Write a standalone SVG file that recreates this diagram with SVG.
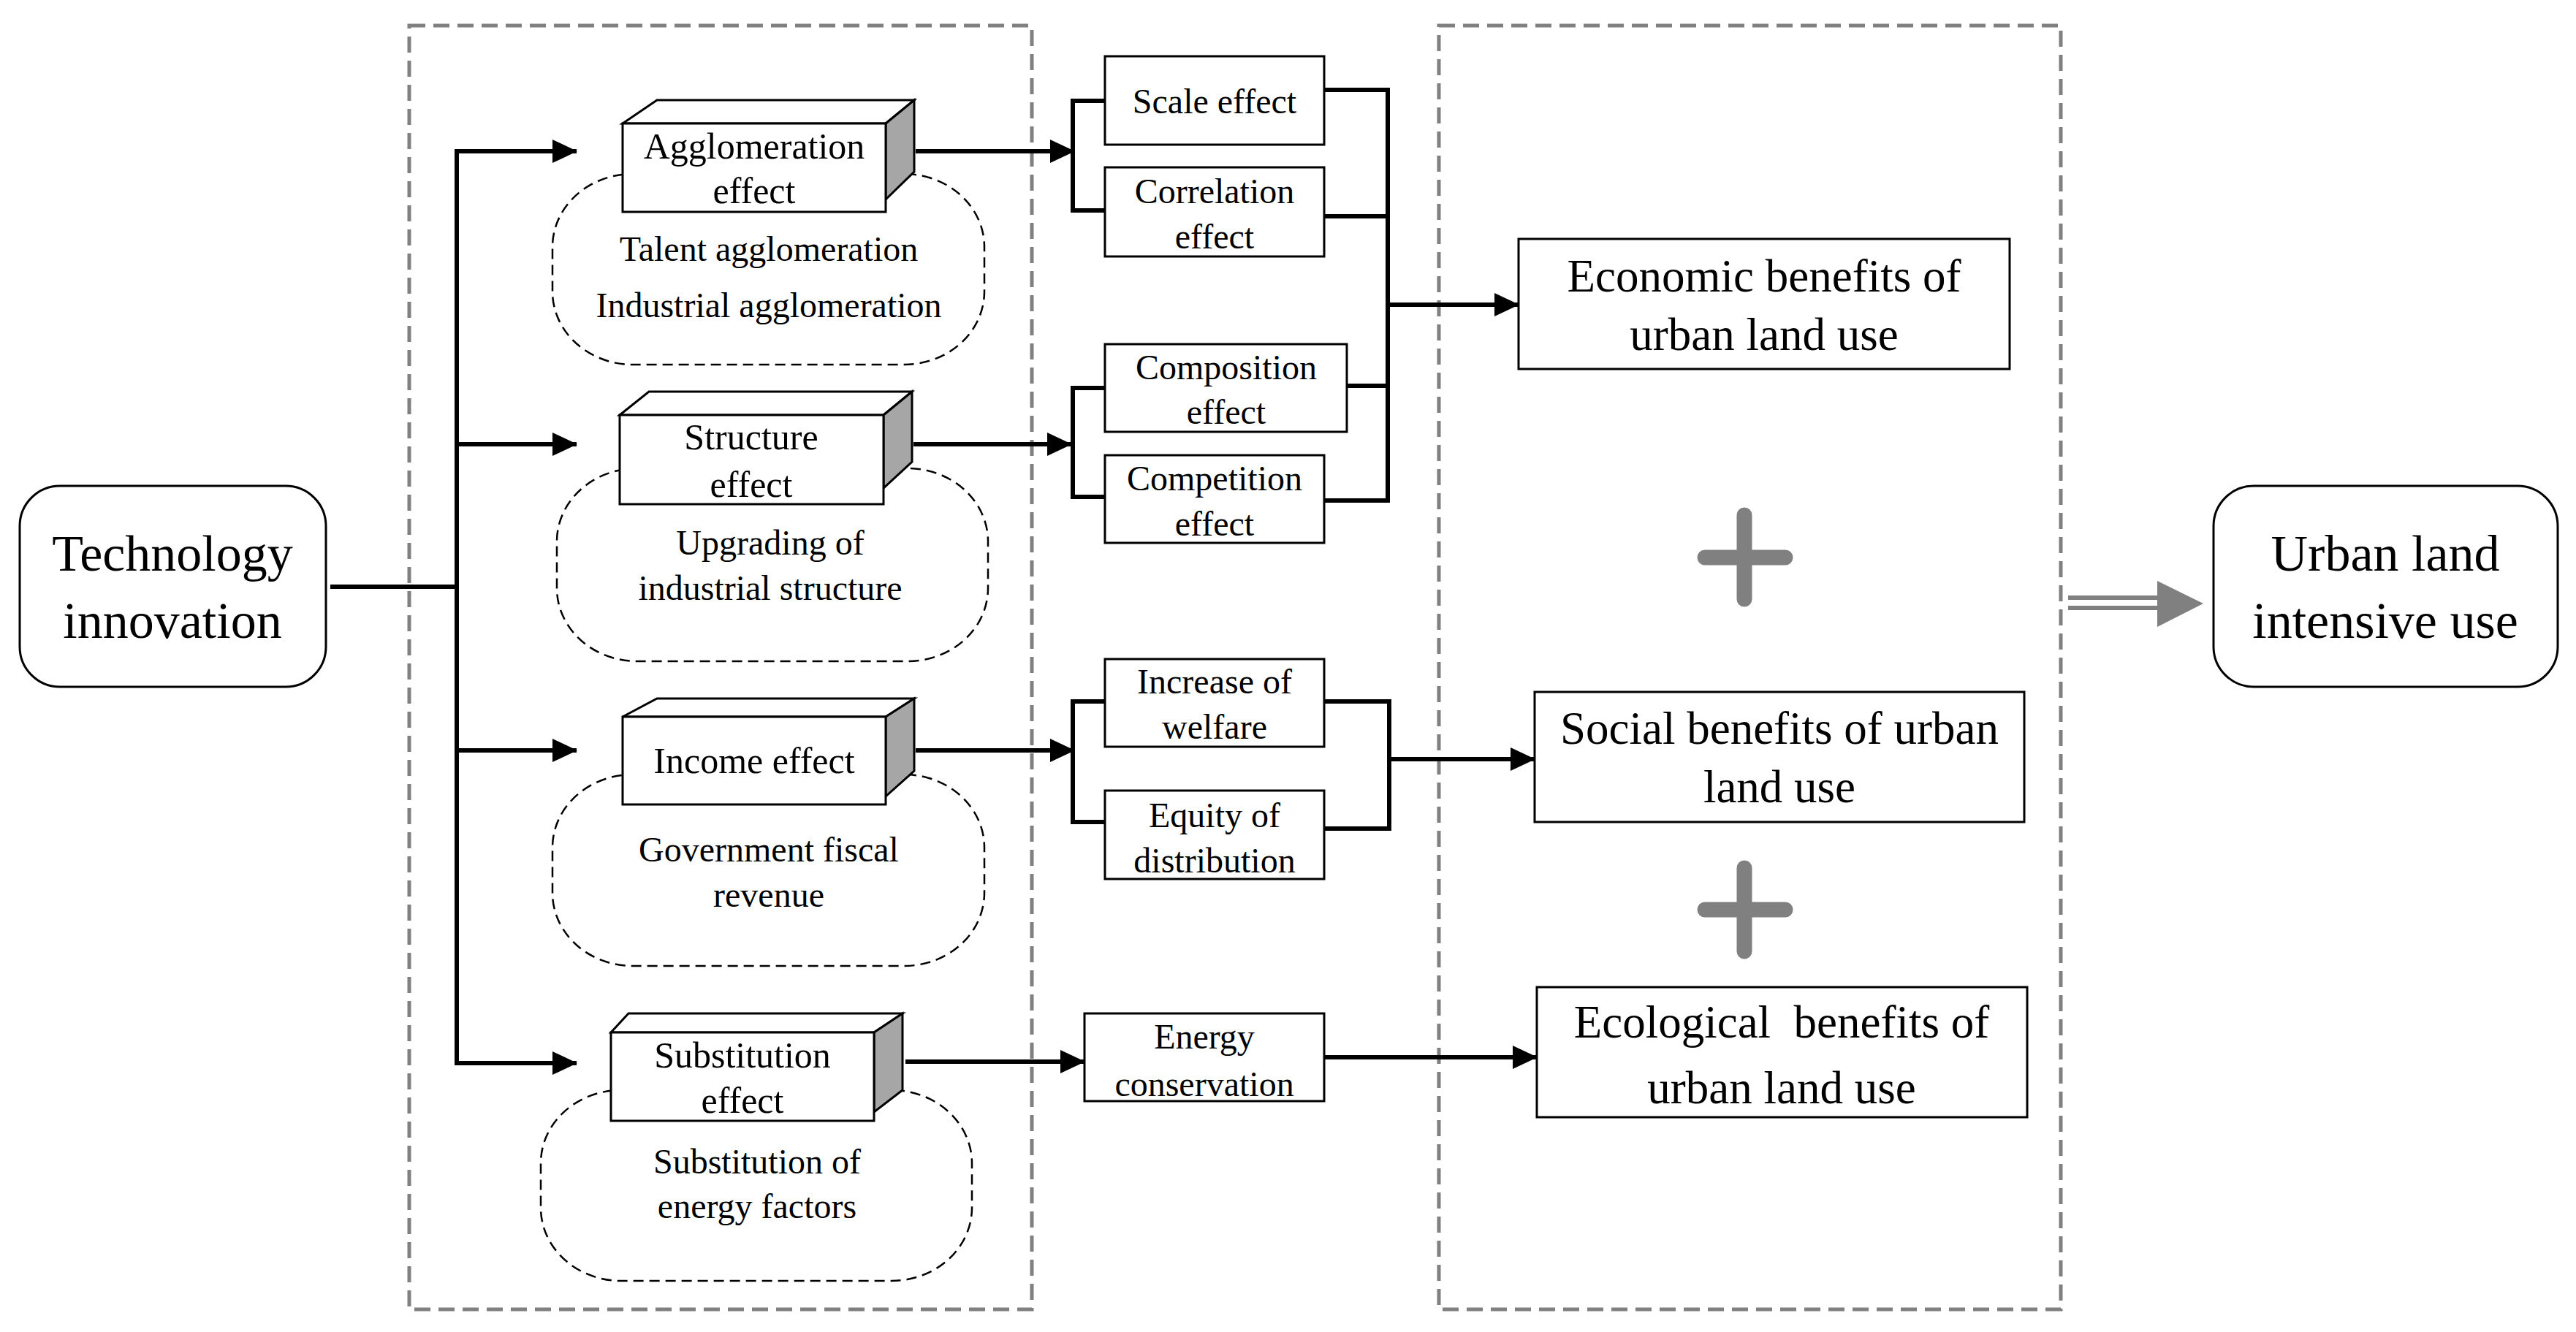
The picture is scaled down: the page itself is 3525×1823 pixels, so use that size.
<svg xmlns="http://www.w3.org/2000/svg" width="3525" height="1823" viewBox="0 0 3525 1823">
<defs>
<marker id="ah" markerUnits="userSpaceOnUse" markerWidth="34" markerHeight="32" refX="33" refY="16" orient="auto"><path d="M0,0 L34,16 L0,32 z" fill="#000"/></marker>
<style>
text{font-family:"Liberation Serif","Times New Roman",serif;fill:#000;text-anchor:middle;dominant-baseline:central}
.box{fill:#fff;stroke:#000;stroke-width:3}
.cloud{fill:#fff;stroke:#000;stroke-width:2.5;stroke-dasharray:14,8}
.side{fill:#a6a6a6;stroke:#000;stroke-width:3}
.top{fill:#fff;stroke:#000;stroke-width:3}
.grp{fill:none;stroke:#808080;stroke-width:5;stroke-dasharray:22,11}
.c{fill:none;stroke:#000;stroke-width:6}
.s{font-size:48px}
.m{font-size:50px}
.l{font-size:63px}
.x{font-size:70px}
.plus{stroke:#808080;stroke-width:21;stroke-linecap:round}
</style>
</defs>
<rect width="3525" height="1823" fill="#fff"/>
<rect class="grp" x="560" y="35" width="852" height="1757"/>
<rect class="grp" x="1969" y="35" width="851" height="1757"/>

<g id="tech"><rect class="box" x="27" y="665" width="419" height="275" rx="55"/><text class="x" x="236" y="757">Technology</text><text class="x" x="236" y="849">innovation</text></g>

<g id="agg">
<rect class="cloud" x="756" y="238" width="591" height="261" rx="110" ry="100"/>
<polygon class="top" points="852,169 899,137 1251,137 1212,169"/>
<polygon class="side" points="1212,169 1251,137 1251,235 1212,273"/>
<rect class="box" x="852" y="169" width="360" height="121"/>
<text class="m" x="1032" y="200">Agglomeration</text><text class="m" x="1032" y="261">effect</text>
<text class="s" x="1052" y="340">Talent agglomeration</text><text class="s" x="1052" y="417">Industrial agglomeration</text>
</g>
<g id="str">
<rect class="cloud" x="762" y="641" width="590" height="264" rx="110" ry="100"/>
<polygon class="top" points="848,568 888,536 1248,536 1209,568"/>
<polygon class="side" points="1209,568 1248,536 1248,632 1209,668"/>
<rect class="box" x="848" y="568" width="361" height="122"/>
<text class="m" x="1028" y="598">Structure</text><text class="m" x="1028" y="663">effect</text>
<text class="s" x="1054" y="742">Upgrading of</text><text class="s" x="1054" y="804">industrial structure</text>
</g>
<g id="inc">
<rect class="cloud" x="756" y="1060" width="591" height="262" rx="110" ry="100"/>
<polygon class="top" points="852,981 899,956 1251,956 1212,981"/>
<polygon class="side" points="1212,981 1251,956 1251,1055 1212,1090"/>
<rect class="box" x="852" y="981" width="360" height="120"/>
<text class="m" x="1032" y="1041">Income effect</text>
<text class="s" x="1052" y="1162">Government fiscal</text><text class="s" x="1052" y="1224">revenue</text>
</g>
<g id="sub">
<rect class="cloud" x="740" y="1492" width="590" height="261" rx="110" ry="100"/>
<polygon class="top" points="836,1413 860,1387 1235,1387 1196,1413"/>
<polygon class="side" points="1196,1413 1235,1387 1235,1492 1196,1522"/>
<rect class="box" x="836" y="1413" width="360" height="121"/>
<text class="m" x="1016" y="1444">Substitution</text><text class="m" x="1016" y="1506">effect</text>
<text class="s" x="1036" y="1589">Substitution of</text><text class="s" x="1036" y="1650">energy factors</text>
</g>

<g id="scale"><rect class="box" x="1512" y="77" width="300" height="121"/><text class="s" x="1662" y="138">Scale effect</text></g>
<g id="corr"><rect class="box" x="1512" y="229" width="300" height="122"/><text class="s" x="1662" y="261">Correlation</text><text class="s" x="1662" y="323">effect</text></g>
<g id="comp"><rect class="box" x="1512" y="471" width="331" height="120"/><text class="s" x="1678" y="502">Composition</text><text class="s" x="1678" y="563">effect</text></g>
<g id="compet"><rect class="box" x="1512" y="623" width="300" height="120"/><text class="s" x="1662" y="654">Competition</text><text class="s" x="1662" y="716">effect</text></g>
<g id="welf"><rect class="box" x="1512" y="902" width="300" height="120"/><text class="s" x="1662" y="932">Increase of</text><text class="s" x="1662" y="994">welfare</text></g>
<g id="equity"><rect class="box" x="1512" y="1082" width="300" height="121"/><text class="s" x="1662" y="1115">Equity of</text><text class="s" x="1662" y="1177">distribution</text></g>
<g id="energy"><rect class="box" x="1484" y="1387" width="328" height="120"/><text class="s" x="1648" y="1418">Energy</text><text class="s" x="1648" y="1483">conservation</text></g>

<g id="econ"><rect class="box" x="2078" y="327" width="672" height="178"/><text class="l" x="2414" y="378">Economic benefits of</text><text class="l" x="2414" y="458">urban land use</text></g>
<g id="soc"><rect class="box" x="2100" y="947" width="670" height="178"/><text class="l" x="2435" y="997">Social benefits of urban</text><text class="l" x="2435" y="1077">land use</text></g>
<g id="eco"><rect class="box" x="2103" y="1351" width="671" height="178"/><text class="l" x="2438" y="1399" xml:space="preserve">Ecological  benefits of</text><text class="l" x="2438" y="1489">urban land use</text></g>
<g id="urban"><rect class="box" x="3029" y="665" width="471" height="275" rx="55"/><text class="x" x="3264" y="757">Urban land</text><text class="x" x="3264" y="849">intensive use</text></g>

<g id="plus"><line class="plus" x1="2387" y1="705" x2="2387" y2="820"/><line class="plus" x1="2333" y1="763" x2="2443" y2="763"/>
<line class="plus" x1="2387" y1="1188" x2="2387" y2="1302"/><line class="plus" x1="2333" y1="1245" x2="2443" y2="1245"/></g>

<g id="connectors">
<line class="c" x1="452" y1="803" x2="625" y2="803"/>
<line class="c" x1="625" y1="207" x2="625" y2="1455"/>
<line class="c" x1="622" y1="207" x2="789" y2="207" marker-end="url(#ah)"/>
<line class="c" x1="622" y1="608" x2="789" y2="608" marker-end="url(#ah)"/>
<line class="c" x1="622" y1="1027" x2="789" y2="1027" marker-end="url(#ah)"/>
<line class="c" x1="622" y1="1455" x2="789" y2="1455" marker-end="url(#ah)"/>
<line class="c" x1="1253" y1="207" x2="1470" y2="207" marker-end="url(#ah)"/>
<line class="c" x1="1250" y1="608" x2="1466" y2="608" marker-end="url(#ah)"/>
<line class="c" x1="1253" y1="1027" x2="1470" y2="1027" marker-end="url(#ah)"/>
<line class="c" x1="1239" y1="1453" x2="1484" y2="1453" marker-end="url(#ah)"/>
<polyline class="c" points="1512,138 1468,138 1468,288 1512,288"/>
<polyline class="c" points="1512,531 1468,531 1468,680 1512,680"/>
<polyline class="c" points="1512,960 1468,960 1468,1125 1512,1125"/>
<polyline class="c" points="1812,123 1899,123 1899,685 1812,685"/>
<line class="c" x1="1812" y1="296" x2="1899" y2="296"/>
<line class="c" x1="1843" y1="528" x2="1899" y2="528"/>
<line class="c" x1="1899" y1="417" x2="2078" y2="417" marker-end="url(#ah)"/>
<polyline class="c" points="1812,960 1901,960 1901,1134 1812,1134"/>
<line class="c" x1="1901" y1="1039" x2="2100" y2="1039" marker-end="url(#ah)"/>
<line class="c" x1="1812" y1="1447" x2="2103" y2="1447" marker-end="url(#ah)"/>
<g id="dbl"><line x1="2830" y1="818" x2="2960" y2="818" stroke="#808080" stroke-width="6"/><line x1="2830" y1="832" x2="2960" y2="832" stroke="#808080" stroke-width="6"/><polygon points="2952,795 3015,826 2952,858" fill="#808080"/></g>
</g>
</svg>
